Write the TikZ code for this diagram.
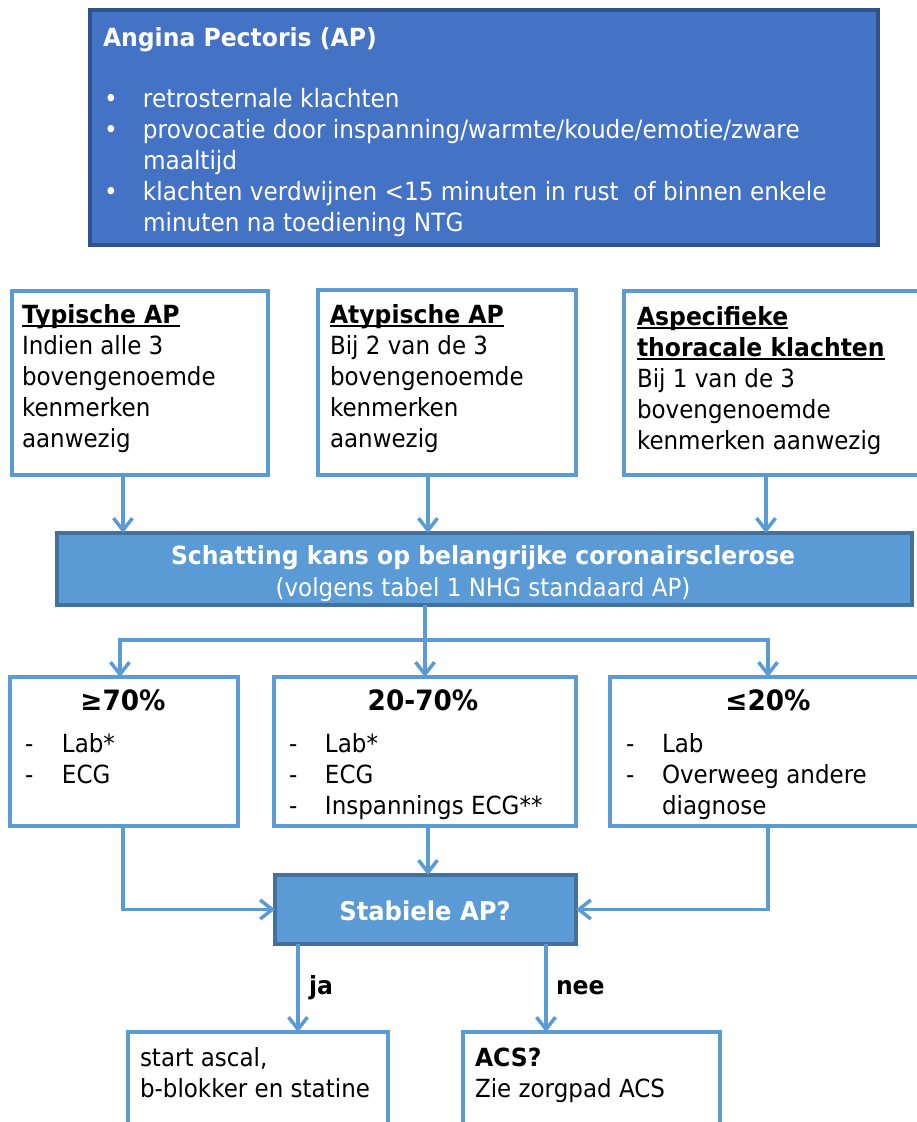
\documentclass[tikz,border=0pt]{standalone}
\usepackage{fontspec}
\setmainfont{DejaVu Sans}[FakeStretch=0.92, BoldFeatures={FakeStretch=0.94}]
\usetikzlibrary{arrows.meta}
\definecolor{apblue}{HTML}{4472C4}
\definecolor{apdark}{HTML}{2F528F}
\definecolor{lblue}{HTML}{5B9BD5}
\definecolor{ldark}{HTML}{41719C}
\newcommand{\myul}[1]{\setbox0\hbox{#1}\rlap{\rule[-3.5pt]{\wd0}{1.6pt}}\box0}
\begin{document}
\begin{tikzpicture}[x=1pt,y=-1pt,
  txt/.style={font=\fontsize{25}{31}\selectfont, inner sep=0pt, outer sep=0pt, align=left, anchor=north west},
  lbl/.style={font=\fontsize{25}{31}\selectfont\bfseries, inner sep=0pt, outer sep=0pt},
  head/.style={font=\fontsize{28}{31}\selectfont\bfseries, inner sep=0pt, outer sep=0pt, anchor=base},
  wbox/.style={draw=lblue, line width=3.5pt, fill=white, anchor=north west, inner sep=0pt, outer sep=0pt},
  bbox/.style={draw=ldark, line width=3.5pt, fill=lblue, anchor=north west, inner sep=0pt, outer sep=0pt},
  btxt/.style={text=white, font=\fontsize{25}{32}\selectfont, align=center, inner sep=0pt, outer sep=0pt},
  conn/.style={draw=lblue, line width=3.5pt},
  arr/.style={conn, -{Straight Barb[length=12pt,width=19pt]}}]
\useasboundingbox (0,0) rectangle (916,1122);
\fill[white] (0,0) rectangle (916,1122);

% top box
\node[draw=apdark, line width=3.5pt, fill=apblue, anchor=north west, outer sep=0pt, inner sep=0pt,
      minimum width=788pt, minimum height=235pt] (ap) at (90,10) {};
\node[txt, text=white, font=\fontsize{25}{31}\selectfont\bfseries] (aptitle) at (103,28) {Angina Pectoris (AP)};
\node[txt, text=white, font=\fontsize{25.2}{31}\selectfont] (aplist) at (104,88) {\makebox[39pt][l]{•}retrosternale klachten\\
\makebox[39pt][l]{•}provocatie door inspanning/warmte/koude/emotie/zware\\
\hspace*{39pt}maaltijd\\
\makebox[39pt][l]{•}klachten verdwijnen <15 minuten in rust\ \ of binnen enkele\\
\hspace*{39pt}minuten na toediening NTG};

% row 2
\node[wbox, minimum width=256pt, minimum height=184pt] (typ) at (12,291) {};
\node[wbox, minimum width=258pt, minimum height=185pt] (atyp) at (318,290) {};
\node[wbox, minimum width=310pt, minimum height=184pt] (asp) at (624,291) {};
\node[txt] (typt) at (22,304) {\textbf{\myul{Typische AP}}\\Indien alle 3\\bovengenoemde\\kenmerken\\aanwezig};
\node[txt] (atypt) at (330,304) {\textbf{\myul{Atypische AP}}\\Bij 2 van de 3\\bovengenoemde\\kenmerken\\aanwezig};
\node[txt] (aspt) at (637,306) {\textbf{\myul{Aspecifieke}}\\\textbf{\myul{thoracale klachten}}\\Bij 1 van de 3\\bovengenoemde\\kenmerken aanwezig};

% schatting
\node[bbox, minimum width=855pt, minimum height=72pt] (sch) at (57,533) {};
\node[btxt] (scht) at (483,574)
  {{\bfseries Schatting kans op belangrijke coronairsclerose}\\(volgens tabel 1 NHG standaard AP)};

% row 3
\node[wbox, minimum width=228pt, minimum height=149pt] (hi) at (10,677) {};
\node[wbox, minimum width=302pt, minimum height=149pt] (mid) at (274,677) {};
\node[wbox, minimum width=320pt, minimum height=149pt] (lo) at (610,677) {};
\node[head] (hih) at (123,710) {≥70\%};
\node[head] (midh) at (423,710) {20-70\%};
\node[head] (loh) at (768,710) {≤20\%};
\node[txt] (hil) at (25,733.5) {\makebox[37pt][l]{-}Lab*\\\makebox[37pt][l]{-}ECG};
\node[txt] (midl) at (289,733.5) {\makebox[36pt][l]{-}Lab*\\\makebox[36pt][l]{-}ECG\\\makebox[36pt][l]{-}Inspannings ECG**};
\node[txt] (lol) at (626,733.5) {\makebox[36pt][l]{-}Lab\\\makebox[36pt][l]{-}Overweeg andere\\\hspace*{36pt}diagnose};

% stabiele
\node[bbox, minimum width=301pt, minimum height=69pt] (st) at (275,875) {};
\node[btxt, font=\fontsize{25.8}{32}\selectfont\bfseries] (stt) at (425,911) {Stabiele AP?};

% bottom boxes
\node[wbox, minimum width=260pt, minimum height=120pt] (jabox) at (128,1032) {};
\node[wbox, minimum width=257pt, minimum height=120pt] (acs) at (463,1032) {};
\node[txt] (gt) at (140,1047.5) {start ascal,\\b-blokker en statine};
\node[txt] (ht) at (475,1047.5) {\textbf{ACS?}\\Zie zorgpad ACS};

\node[lbl, anchor=base west] (jal) at (309,994) {ja};
\node[lbl, anchor=base west] (neel) at (556,994) {nee};

% connectors
\draw[arr] (123,0 |- typ.south) -- (123,0 |- sch.north);
\draw[arr] (428,0 |- atyp.south) -- (428,0 |- sch.north);
\draw[arr] (766,0 |- asp.south) -- (766,0 |- sch.north);
\coordinate (j) at (425,640);
\draw[conn] (425,0 |- sch.south) -- (j);
\draw[arr] (j) -| (120,0 |- hi.north);
\draw[arr] (j) -| (768,0 |- lo.north);
\draw[arr] (j) -- (425,0 |- mid.north);
\draw[arr] (123,0 |- hi.south) |- (st.west);
\draw[arr] (428,0 |- mid.south) -- (428,0 |- st.north);
\draw[arr] (768,0 |- lo.south) |- (st.east);
\draw[arr] (298,0 |- st.south) -- (298,0 |- jabox.north);
\draw[arr] (546,0 |- st.south) -- (546,0 |- acs.north);
\end{tikzpicture}
\end{document}
